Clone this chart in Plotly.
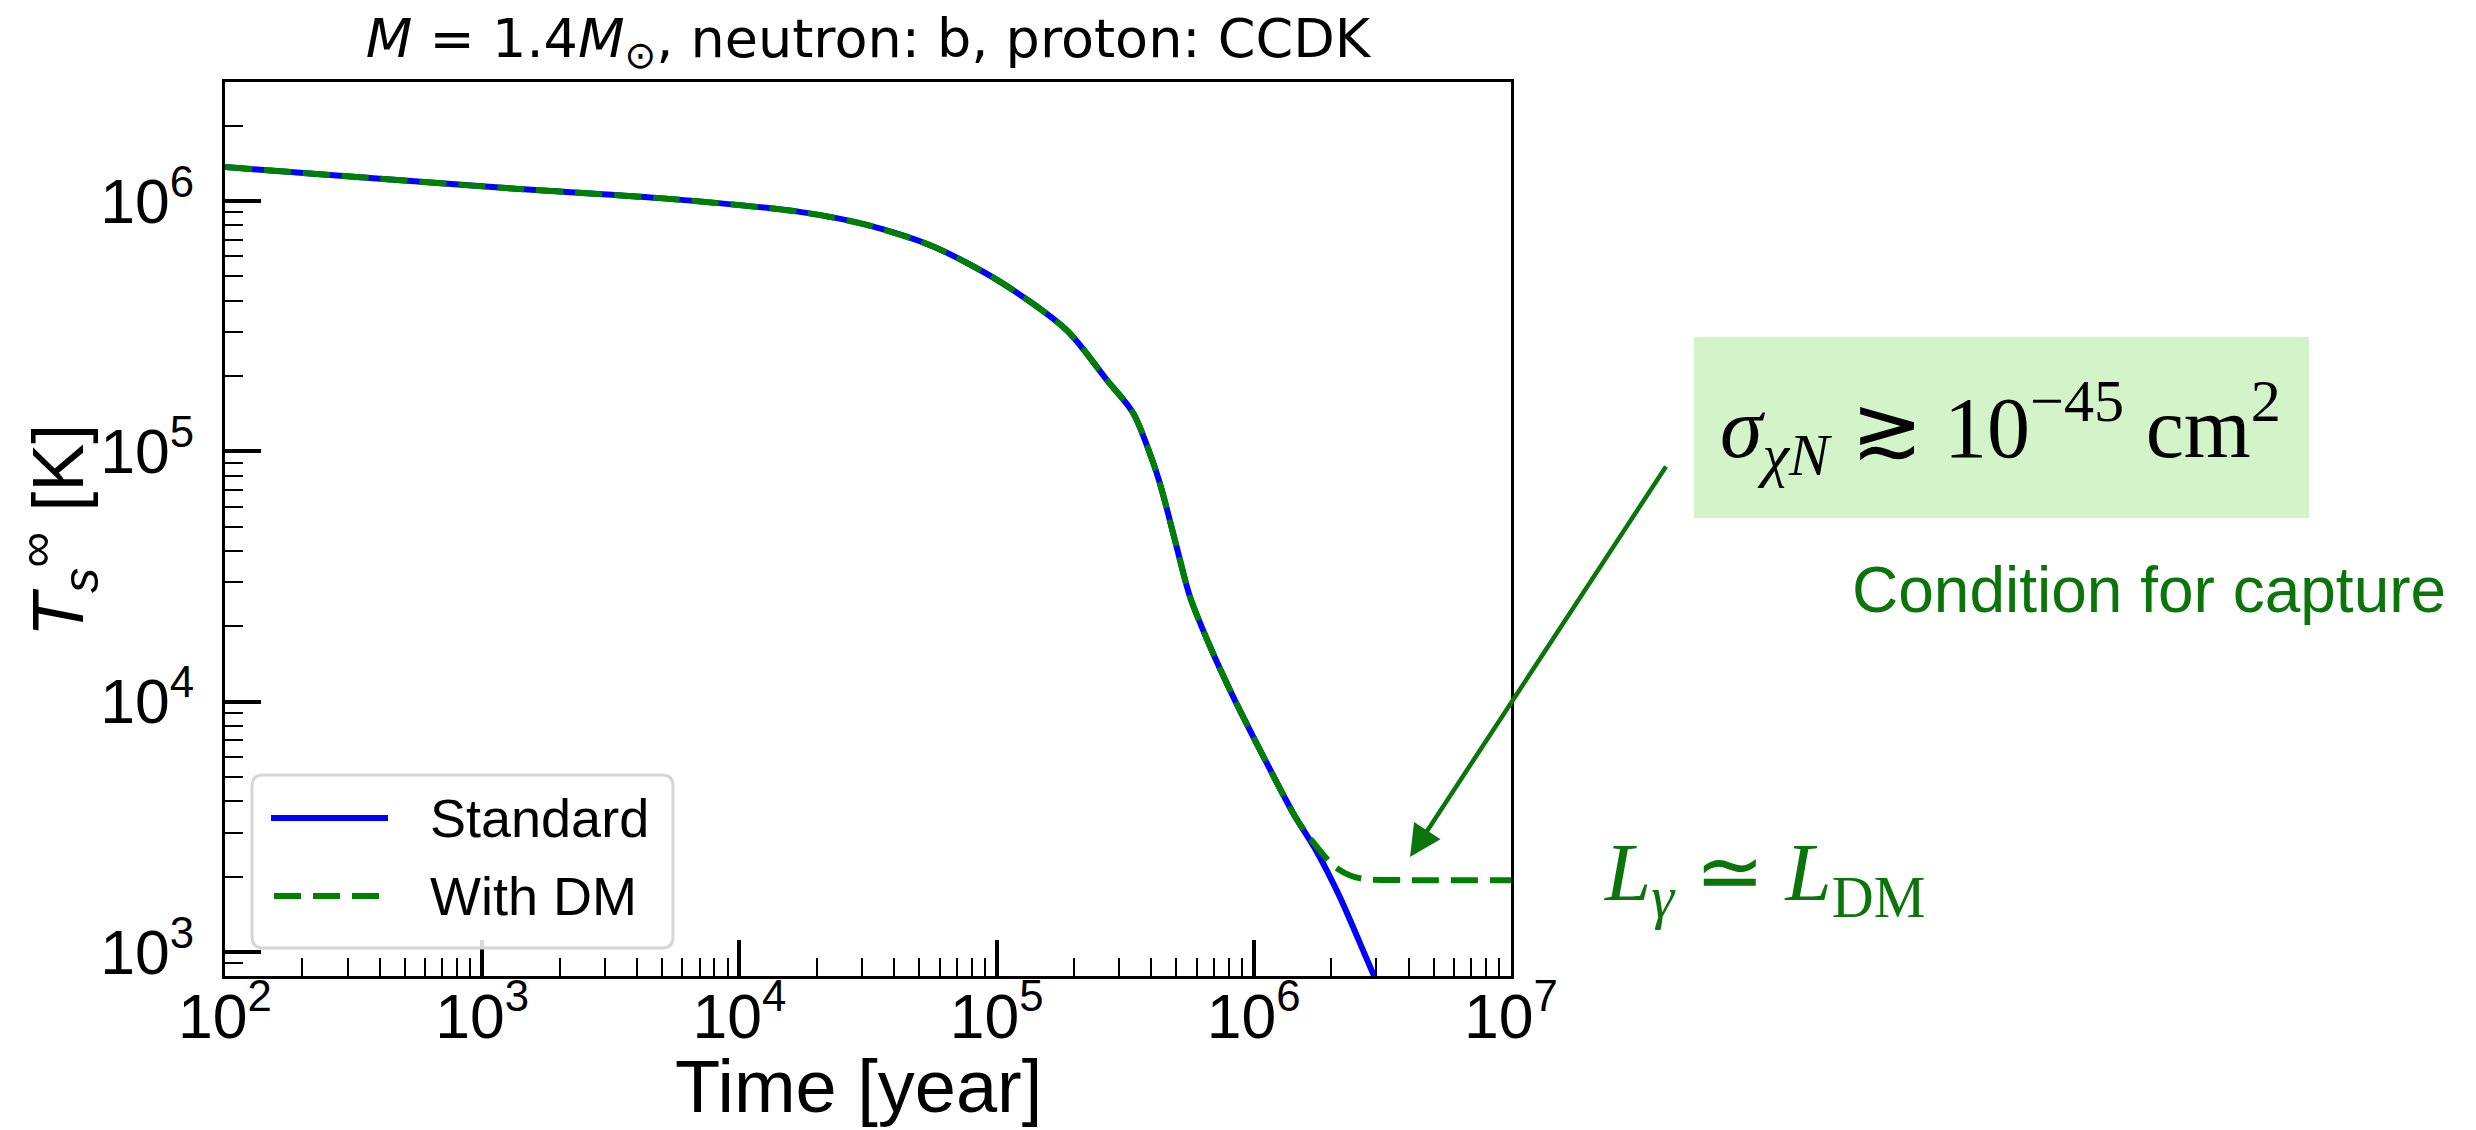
import plotly.graph_objects as go

# ---------------- data ----------------
time_standard = [1.0e2, 3.15e2, 1.24e3, 4.9e3, 1.72e4, 3.13e4, 5.7e4, 1.03e5, 1.87e5,
                 2.68e5, 3.40e5, 4.07e5, 4.39e5, 5.01e5, 5.65e5, 6.76e5, 8.32e5,
                 1.09e6, 1.43e6, 1.76e6, 2.16e6, 2.92e6, 3.31e6]
temp_standard = [1.365e6, 1.25e6, 1.125e6, 1.026e6, 9.04e5, 8.02e5, 6.56e5, 4.76e5, 3.05e5,
                 1.93e5, 1.42e5, 8.95e4, 7.0e4, 4.16e4, 2.62e4, 1.66e4, 1.045e4,
                 6.03e3, 3.55e3, 2.51e3, 1.66e3, 8.13e2, 6.17e2]

time_dm = [1.0e2, 3.15e2, 1.24e3, 4.9e3, 1.72e4, 3.13e4, 5.7e4, 1.03e5, 1.87e5,
           2.68e5, 3.40e5, 4.07e5, 4.39e5, 5.01e5, 5.65e5, 6.76e5, 8.32e5,
           1.09e6, 1.43e6, 1.61e6, 1.76e6, 2.04e6, 2.37e6, 2.75e6, 3.98e6, 1.0e7]
temp_dm = [1.365e6, 1.25e6, 1.125e6, 1.026e6, 9.04e5, 8.02e5, 6.56e5, 4.76e5, 3.05e5,
           1.93e5, 1.42e5, 8.95e4, 7.0e4, 4.16e4, 2.62e4, 1.66e4, 1.045e4,
           6.03e3, 3.55e3, 2.95e3, 2.63e3, 2.21e3, 2.02e3, 1.95e3, 1.936e3, 1.936e3]

series_names = ["Standard", "With DM"]
title_text = "<i>M</i> = 1.4<i>M</i><sub>⊙</sub>, neutron: b, proton: CCDK"
x_title = "Time [year]"
y_title = "<i>T</i><sub><i>s</i></sub><sup>∞</sup> [K]"
cond_text = "<i>σ</i><sub><i>χN</i></sub> ≳ 10<sup>−45</sup> cm<sup>2</sup>"
cond_label = "Condition for capture"
balance_text = "<i>L</i><sub><i>γ</i></sub> ≃ <i>L</i><sub>DM</sub>"

# ---------------- styling ----------------
W, H = 2476, 1130
L, R, T, B = 225, 1511, 82, 976
BLUE = "#0000ff"
GREEN = "#008000"
ANN_GREEN = "#0b740b"
SANS = "Liberation Sans, Arial, Helvetica, sans-serif"
SERIF = "Liberation Serif, Times New Roman, serif"
pw, ph = R - L, B - T
DASH = "27px,12px"


def px(x):
    return (x - L) / pw


def py(y):
    return (B - y) / ph


fig = go.Figure()
fig.add_trace(go.Scatter(x=time_standard, y=temp_standard, mode="lines", name=series_names[0],
                         line=dict(color=BLUE, width=6, shape="spline", smoothing=0.8),
                         showlegend=False))
fig.add_trace(go.Scatter(x=time_dm, y=temp_dm, mode="lines", name=series_names[1],
                         line=dict(color=GREEN, width=6, dash=DASH, shape="spline", smoothing=0.8),
                         showlegend=False))

axis_common = dict(
    type="log", showgrid=False, zeroline=False,
    showline=True, linecolor="black", linewidth=3, mirror=True,
    ticks="inside", ticklen=36, tickwidth=3.5, tickcolor="black",
    dtick=1, exponentformat="power",
    tickfont=dict(family=SANS, size=50, color="black"),
    minor=dict(ticks="inside", ticklen=18, tickwidth=2, tickcolor="black", dtick="D1", showgrid=False),
    automargin=False,
)

fig.update_xaxes(**axis_common, range=[2, 7.0001], ticklabelstandoff=-14)
fig.update_yaxes(**axis_common, range=[2.904, 6.475], ticklabelstandoff=18)

shapes = []
# legend box with rounded corners (paper coordinates)
x0, x1, y0, y1 = px(252), px(673), py(948), py(775)
rx, ry = 11 / pw, 11 / ph
path = (f"M {x0+rx},{y0} L {x1-rx},{y0} Q {x1},{y0} {x1},{y0+ry} L {x1},{y1-ry} "
        f"Q {x1},{y1} {x1-rx},{y1} L {x0+rx},{y1} Q {x0},{y1} {x0},{y1-ry} "
        f"L {x0},{y0+ry} Q {x0},{y0} {x0+rx},{y0} Z")
shapes.append(dict(type="path", path=path, xref="paper", yref="paper",
                   fillcolor="rgba(255,255,255,0.85)", line=dict(color="#d6d6d6", width=3), layer="above"))
shapes.append(dict(type="line", xref="paper", yref="paper", x0=px(271), x1=px(388), y0=py(818), y1=py(818),
                   line=dict(color=BLUE, width=6), layer="above"))
shapes.append(dict(type="line", xref="paper", yref="paper", x0=px(274), x1=px(380), y0=py(896), y1=py(896),
                   line=dict(color=GREEN, width=6, dash=DASH), layer="above"))
# green condition box
shapes.append(dict(type="rect", xref="paper", yref="paper", x0=px(1694), x1=px(2309), y0=py(518), y1=py(337),
                   fillcolor="#d3f4c9", line=dict(width=0), layer="below"))

annotations = [
    dict(text=x_title, xref="paper", yref="paper", x=px(858), y=py(1129), xanchor="center", yanchor="bottom",
         borderpad=0, showarrow=False, font=dict(family=SANS, size=74, color="black")),
    dict(text=y_title, xref="paper", yref="paper", x=px(58), y=py(530), xanchor="center", yanchor="middle",
         textangle=-90, showarrow=False, font=dict(family=SANS, size=72, color="black")),
    dict(text=series_names[0], xref="paper", yref="paper", x=px(428), y=py(818), xanchor="left", yanchor="middle",
         showarrow=False, font=dict(family=SANS, size=54, color="black")),
    dict(text=series_names[1], xref="paper", yref="paper", x=px(428), y=py(896), xanchor="left", yanchor="middle",
         showarrow=False, font=dict(family=SANS, size=54, color="black")),
    dict(text=cond_text, xref="paper", yref="paper", x=px(2000), y=py(428), xanchor="center", yanchor="middle",
         showarrow=False, font=dict(family=SERIF, size=86, color="black")),
    dict(text=cond_label, xref="paper", yref="paper", x=px(2149), y=py(590), xanchor="center", yanchor="middle",
         showarrow=False, font=dict(family=SANS, size=64, color=ANN_GREEN)),
    dict(text=balance_text, xref="paper", yref="paper", x=px(1764), y=py(878), xanchor="center", yanchor="middle",
         showarrow=False, font=dict(family=SERIF, size=83, color=ANN_GREEN)),
    dict(text="", xref="paper", yref="paper", x=px(1410), y=py(857), ax=257, ay=-392,
         showarrow=True, arrowhead=2, arrowsize=1.4, arrowwidth=4.5, arrowcolor=ANN_GREEN, standoff=0),
]

fig.update_layout(
    width=W, height=H,
    margin=dict(l=L, r=W - R, t=T, b=H - B, autoexpand=False),
    paper_bgcolor="white", plot_bgcolor="white",
    title=dict(text=title_text, x=px(868), xref="paper", xanchor="center",
               y=1 - 38 / H, yref="container", yanchor="middle",
               font=dict(family="DejaVu Sans", size=54, color="black")),
    shapes=shapes, annotations=annotations, showlegend=False,
)

fig.write_html("out.html")
